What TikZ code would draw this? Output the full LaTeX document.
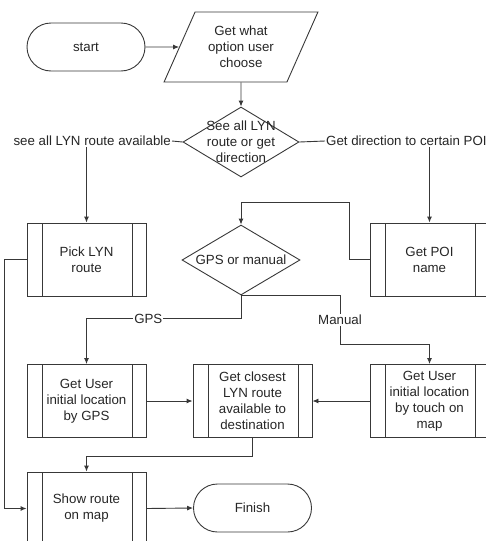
\documentclass[tikz,border=0pt]{standalone}
\usepackage{fontspec}
\setmainfont{Liberation Sans}
\usetikzlibrary{shapes.geometric,arrows.meta}
\definecolor{ln}{rgb}{0.22,0.22,0.22}
\tikzset{%
  arrow/.style={draw=ln,line width=0.9pt,-{Latex[length=6pt,width=5pt]}},
  link/.style={draw=ln,line width=0.9pt},
  terminal/.style={draw=ln,line width=0.9pt,rectangle,rounded corners=24pt,
    minimum width=118pt,minimum height=48pt},
  process/.style={draw=ln,line width=0.9pt,rectangle,align=center,
    minimum width=119pt,minimum height=73pt,
    path picture={%
      \draw[ln,line width=0.9pt]
        ([xshift=15pt]path picture bounding box.north west) --
        ([xshift=15pt]path picture bounding box.south west)
        ([xshift=-14pt]path picture bounding box.north east) --
        ([xshift=-14pt]path picture bounding box.south east);}},
  decision/.style={draw=ln,line width=0.9pt,diamond,inner sep=0pt,
    minimum width=#1,minimum height=70pt},
  decision/.default=116pt,
  io/.style={draw=ln,line width=0.9pt,trapezium,trapezium left angle=62,
    trapezium right angle=118,trapezium stretches=true,align=center,
    minimum width=154pt,minimum height=70pt,inner sep=0pt},
  tag/.style={fill=white,inner sep=1pt}
}

\begin{document}
\begin{tikzpicture}[x=1pt,y=-1pt,font=\fontsize{13.3}{16}\selectfont,text=black!85]
  \useasboundingbox (0,0) rectangle (486,541);
  \clip (0,0) rectangle (486,541);
  \node[terminal] (start) at (86,47) {start};
  \node[io] (input) at (241,47) {Get what\\option user\\choose};
  \node[decision] (choice) at (241,142)
    [label={[align=center]center:See all LYN\\route or get\\direction}] {};
  \node[tag,anchor=east] (lblall) at (172,141) {see all LYN route available};
  \node[tag,anchor=west] (lblpoi) at (325,141) {Get direction to certain POI};
  \node[process] (pick) at (86.5,259.5) {Pick LYN\\route};
  \node[decision=118pt] (mode) at (241,260) [label={center:GPS or manual}] {};
  \node[process] (poi) at (429.5,259.5) {Get POI\\name};
  \node[process] (gpsloc) at (86.5,401) {Get User\\initial location\\by GPS};
  \node[process] (closest) at (252.5,401) {Get closest\\LYN route\\available to\\destination};
  \node[process] (touch) at (429.5,401) {Get User\\initial location\\by touch on\\map};
  \node[process] (show) at (86.5,508.5) {Show route\\on map};
  \node[terminal] (finish) at (252.5,508) {Finish};
  \coordinate (up) at (349,202);
  \coordinate (manual) at (340,344);
  %%%
  \draw[arrow] (start) -- (input);
  \draw[arrow] (input) -- (choice);
  \draw[link] (choice.west) -- (lblall.east);
  \draw[link] (choice.east) -- (lblpoi.west);
  \draw[arrow] (lblall.south -| pick.north) -- (pick.north);
  \draw[arrow] (lblpoi.south -| poi.north) -- (poi.north);
  \draw[arrow] (poi.west) -| (up) -| (mode.north);
  \draw[arrow] (mode.south) -- ++(0,23) -| node[tag,pos=0.3] {GPS} (gpsloc.north);
  \draw[arrow] (mode.south) -| node[tag,pos=0.75] {Manual} (manual) -| (touch.north);
  \draw[arrow] (gpsloc.east) -- (closest.west);
  \draw[arrow] (touch.west) -- (closest.east);
  \draw[arrow] (closest.south) -- ++(0,18) -| (show.north);
  \draw[arrow] (pick.west) -- ++(-22,0) |- (show.west);
  \draw[arrow] (show.east) -- (finish.west);
\end{tikzpicture}
\end{document}
